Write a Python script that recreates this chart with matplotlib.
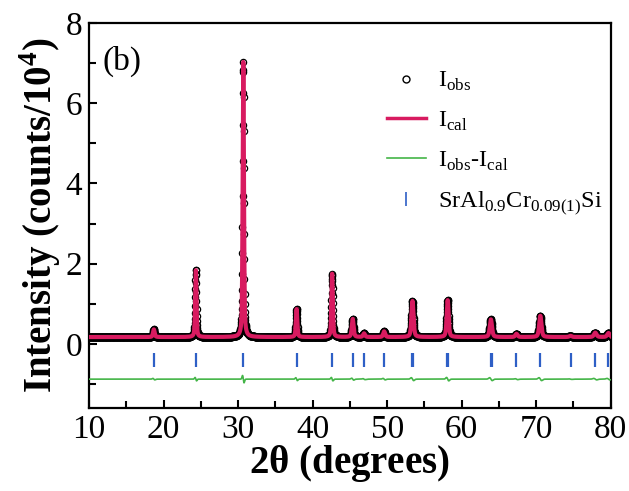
import numpy as np
import matplotlib.pyplot as plt
from matplotlib.lines import Line2D
from matplotlib.ticker import MultipleLocator

plt.rcParams['font.family'] = 'Liberation Serif'
plt.rcParams['mathtext.fontset'] = 'custom'
plt.rcParams['mathtext.rm'] = 'Liberation Serif'
plt.rcParams['mathtext.bf'] = 'Liberation Serif:bold'

# peak table: 2theta, height above background, fwhm
peak_pos = [18.7, 24.33, 30.7, 37.85, 42.62, 45.38, 46.9, 49.6, 53.4, 58.12,
            63.92, 67.35, 70.55, 74.6, 77.92, 79.7]
peak_height = [0.19, 1.68, 6.86, 0.70, 1.58, 0.45, 0.09, 0.14, 0.90, 0.92,
               0.44, 0.08, 0.53, 0.03, 0.11, 0.10]
peak_fwhm = [0.25, 0.20, 0.20, 0.22, 0.22, 0.28, 0.30, 0.30, 0.32, 0.30,
             0.35, 0.35, 0.35, 0.40, 0.40, 0.40]
# size of the misfit seen in the difference curve at each peak
peak_resid = [0.03, 0.07, 0.15, 0.06, 0.07, 0.04, 0.02, 0.03, 0.06, 0.07,
              0.06, 0.02, 0.06, 0.01, 0.03, 0.03]
background = 0.17
diff_level = -0.88

# Bragg reflection markers
hkl_pos = [18.7, 24.33, 30.7, 37.85, 42.62, 45.38, 46.9, 49.6, 53.35, 53.48,
           58.08, 58.2, 63.88, 64.0, 67.35, 70.55, 74.6, 77.92, 79.6]

two_theta = np.arange(10, 80.001, 0.02)


def pseudo_voigt(x, p, w, eta=0.45):
    g = np.exp(-4 * np.log(2) * ((x - p) / w) ** 2)
    l = 1 / (1 + 4 * ((x - p) / w) ** 2)
    return eta * l + (1 - eta) * g


i_cal = np.full_like(two_theta, background)
resid = np.zeros_like(two_theta)
for p, h, w, r in zip(peak_pos, peak_height, peak_fwhm, peak_resid):
    i_cal += h * pseudo_voigt(two_theta, p, w)
    u = (two_theta - p) / w
    resid += r * (-2 * u) * np.exp(-2 * u ** 2)
i_obs = i_cal + resid
i_diff = diff_level + resid

fig, ax = plt.subplots(figsize=(6.29, 4.91), dpi=100)
fig.subplots_adjust(left=0.1415, right=0.971, top=0.953, bottom=0.169)

ax.plot(two_theta, i_obs, 'o', mfc='none', mec='black', ms=4.5, mew=0.9, zorder=2)
ax.plot(two_theta, i_cal, color='#d81b60', lw=3, zorder=3)
ax.plot(two_theta, i_diff, color='#44b548', lw=1.2, zorder=3)
ax.vlines(hkl_pos, -0.57, -0.22, color='#2e5fc6', lw=1.6, zorder=3)

ax.set_xlim(10, 80)
ax.set_ylim(-1.6, 8)
ax.xaxis.set_major_locator(MultipleLocator(10))
ax.xaxis.set_minor_locator(MultipleLocator(5))
ax.yaxis.set_major_locator(MultipleLocator(2))
ax.yaxis.set_minor_locator(MultipleLocator(1))
ax.tick_params(which='both', direction='in', top=False, right=False,
               labelsize=24, width=1.5, pad=5)
ax.tick_params(which='major', length=6)
ax.tick_params(which='minor', length=5)
for s in ax.spines.values():
    s.set_linewidth(1.6)

ax.set_xlabel(r'2$\mathbf{\theta}$ (degrees)', fontsize=28, fontweight='bold', labelpad=-2)
ax.set_ylabel(r'Intensity (counts/10$^{\mathbf{4}}$)', fontsize=28, fontweight='bold', labelpad=2)
ax.text(0.025, 0.94, '(b)', transform=ax.transAxes, fontsize=24, va='top')

handles = [
    Line2D([], [], ls='none', marker='o', mfc='none', mec='black', ms=5, mew=1),
    Line2D([], [], color='#d81b60', lw=2.5),
    Line2D([], [], color='#44b548', lw=1.2),
    Line2D([], [], ls='none', marker='|', color='#2e5fc6', ms=10, mew=1.2),
]
labels = [r'I$_{\mathrm{obs}}$', r'I$_{\mathrm{cal}}$',
          r'I$_{\mathrm{obs}}$-I$_{\mathrm{cal}}$',
          r'SrAl$_{0.9}$Cr$_{0.09(1)}$Si']
ax.legend(handles, labels, loc='upper left', bbox_to_anchor=(0.571, 0.878),
          frameon=False, fontsize=17.5, handlelength=1.6, labelspacing=0.68,
          handletextpad=0.5, borderpad=0, borderaxespad=0)

fig.savefig('out.png', dpi=100)
